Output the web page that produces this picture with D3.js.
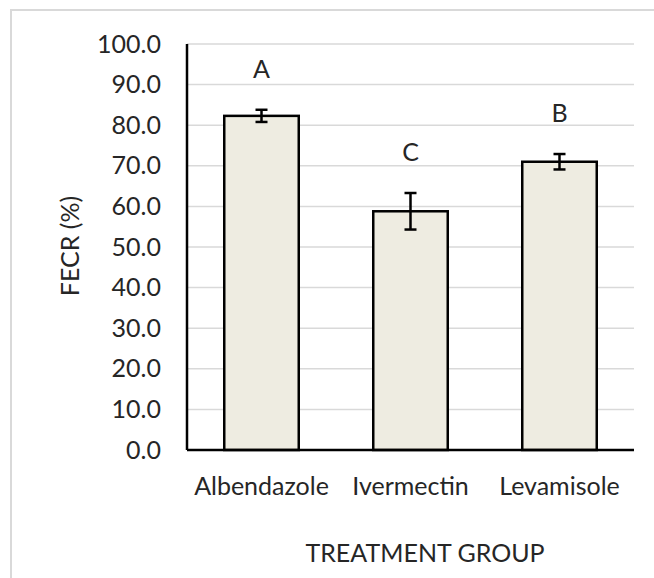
<!DOCTYPE html>
<html>
<head>
<meta charset="utf-8">
<script src="https://cdn.jsdelivr.net/npm/d3@7"></script>
<style>
  body { margin: 0; background: #fff; }
  text { font-family: Lato, "Open Sans", sans-serif; fill: #262626; }
</style>
</head>
<body>
<div id="the_chart"></div>
<script>
var groups = ["Albendazole", "Ivermectin", "Levamisole"];
var fecr = [82.3, 58.8, 71.0];
var errs = [1.5, 4.5, 1.9];
var letters = ["A", "C", "B"];
var yticks = [0, 10, 20, 30, 40, 50, 60, 70, 80, 90, 100];

var w = 654, h = 578;
var plot_l = 187, plot_r = 634, plot_t = 44, plot_b = 450;
var fs = 25;

var svg = d3.select("#the_chart").append("svg")
    .attr("width", w)
    .attr("height", h);

// outer chart frame (runs off the picture on right / bottom)
svg.append("rect")
    .attr("x", 11).attr("y", 10)
    .attr("width", w).attr("height", h)
    .attr("fill", "none")
    .attr("stroke", "#d9d9d9")
    .attr("stroke-width", 2);

var xscale = d3.scaleBand()
    .domain(groups)
    .range([plot_l, plot_r])
    .paddingInner(0.5)
    .paddingOuter(0.25);
var yscale = d3.scaleLinear()
    .domain([0, 100])
    .range([plot_b, plot_t]);

// gridlines
svg.append("g")
    .selectAll("line")
    .data(yticks.slice(1))
    .enter().append("line")
    .attr("x1", plot_l).attr("x2", plot_r)
    .attr("y1", function(d) { return yscale(d); })
    .attr("y2", function(d) { return yscale(d); })
    .attr("stroke", "#d9d9d9")
    .attr("stroke-width", 1.5);

// y axis
var yaxis = d3.axisLeft(yscale)
    .tickValues(yticks)
    .tickFormat(d3.format(".1f"))
    .tickSize(0)
    .tickPadding(26);
var gy = svg.append("g")
    .attr("transform", "translate(" + plot_l + ",0)")
    .call(yaxis);
gy.select(".domain").remove();
gy.selectAll("text")
    .attr("font-size", fs)
    .attr("font-family", null)
    .attr("fill", "#262626");

// bars
svg.append("g")
    .selectAll("rect")
    .data(fecr)
    .enter().append("rect")
    .attr("x", function(d, i) { return xscale(groups[i]); })
    .attr("y", function(d) { return yscale(d); })
    .attr("width", xscale.bandwidth())
    .attr("height", function(d) { return plot_b - yscale(d); })
    .attr("fill", "#eeece1")
    .attr("stroke", "#000")
    .attr("stroke-width", 2.5);

// error bars
var eb = svg.append("g")
    .selectAll("g")
    .data(fecr)
    .enter().append("g")
    .attr("stroke", "#000")
    .attr("stroke-width", 2.5);
eb.append("line")
    .attr("x1", function(d, i) { return xscale(groups[i]) + xscale.bandwidth() / 2; })
    .attr("x2", function(d, i) { return xscale(groups[i]) + xscale.bandwidth() / 2; })
    .attr("y1", function(d, i) { return yscale(d + errs[i]); })
    .attr("y2", function(d, i) { return yscale(d - errs[i]); });
[1, -1].forEach(function(s) {
    eb.append("line")
        .attr("x1", function(d, i) { return xscale(groups[i]) + xscale.bandwidth() / 2 - 6; })
        .attr("x2", function(d, i) { return xscale(groups[i]) + xscale.bandwidth() / 2 + 6; })
        .attr("y1", function(d, i) { return yscale(d + s * errs[i]); })
        .attr("y2", function(d, i) { return yscale(d + s * errs[i]); });
});

// significance letters
svg.append("g")
    .selectAll("text")
    .data(letters)
    .enter().append("text")
    .attr("x", function(d, i) { return xscale(groups[i]) + xscale.bandwidth() / 2; })
    .attr("y", function(d, i) { return yscale(fecr[i] + errs[i]) - 41; })
    .attr("dy", "0.35em")
    .attr("text-anchor", "middle")
    .attr("font-size", fs)
    .text(function(d) { return d; });

// axis lines
svg.append("line")
    .attr("x1", plot_l).attr("x2", plot_l)
    .attr("y1", plot_t).attr("y2", plot_b)
    .attr("stroke", "#000").attr("stroke-width", 2.5);
svg.append("line")
    .attr("x1", plot_l).attr("x2", plot_r)
    .attr("y1", plot_b).attr("y2", plot_b)
    .attr("stroke", "#000").attr("stroke-width", 2.5);

// category labels
svg.append("g")
    .selectAll("text")
    .data(groups)
    .enter().append("text")
    .attr("x", function(d) { return xscale(d) + xscale.bandwidth() / 2; })
    .attr("y", 495)
    .attr("text-anchor", "middle")
    .attr("font-size", fs)
    .text(function(d) { return d; });

// axis titles
svg.append("text")
    .attr("x", 425).attr("y", 562)
    .attr("text-anchor", "middle")
    .attr("font-size", fs)
    .text("TREATMENT GROUP");
svg.append("text")
    .attr("transform", "translate(70,246) rotate(-90)")
    .attr("dy", "0.35em")
    .attr("text-anchor", "middle")
    .attr("font-size", fs)
    .text("FECR (%)");
</script>
</body>
</html>
